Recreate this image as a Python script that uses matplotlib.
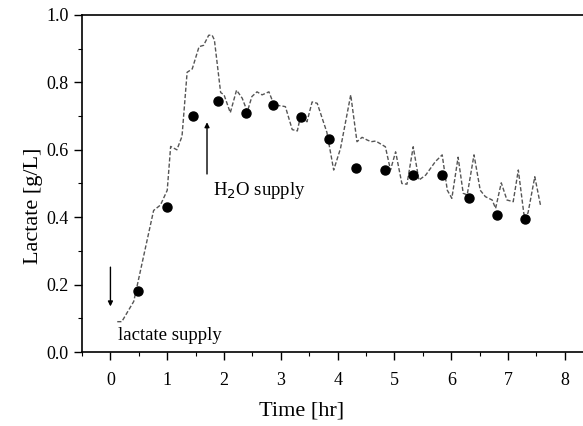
"""
Lactate concentration over time with lactate / H2O supply markers.
"""

import matplotlib
matplotlib.use("Agg")
import matplotlib.pyplot as plt
import matplotlib.ticker as ticker

# continuous (online) lactate trace
line_time = [0.12, 0.20, 0.41, 0.76, 0.88, 1.00, 1.06, 1.17, 1.26, 1.35, 1.44,
             1.56, 1.64, 1.73, 1.79, 1.83, 1.94, 2.00, 2.11, 2.22, 2.32, 2.41,
             2.49, 2.58, 2.67, 2.79, 2.88, 3.02, 3.08, 3.20, 3.29, 3.35, 3.46,
             3.55, 3.64, 3.81, 3.93, 4.05, 4.23, 4.34, 4.43, 4.52, 4.59, 4.67,
             4.84, 4.93, 5.02, 5.13, 5.22, 5.33, 5.43, 5.55, 5.72, 5.84, 5.93,
             6.01, 6.12, 6.21, 6.28, 6.40, 6.51, 6.60, 6.72, 6.78, 6.88, 6.98,
             7.09, 7.18, 7.28, 7.35, 7.47, 7.57]
line_lactate = [0.09, 0.09, 0.15, 0.42, 0.436, 0.48, 0.61, 0.60, 0.64, 0.83, 0.84,
                0.906, 0.91, 0.94, 0.94, 0.926, 0.77, 0.763, 0.71, 0.777, 0.753,
                0.713, 0.758, 0.772, 0.763, 0.772, 0.733, 0.730, 0.728, 0.660,
                0.656, 0.703, 0.683, 0.742, 0.738, 0.652, 0.54, 0.604, 0.763,
                0.624, 0.637, 0.629, 0.624, 0.626, 0.609, 0.54, 0.594, 0.50,
                0.498, 0.609, 0.51, 0.525, 0.565, 0.585, 0.48, 0.456, 0.578,
                0.471, 0.466, 0.585, 0.48, 0.461, 0.451, 0.426, 0.502, 0.451,
                0.446, 0.54, 0.407, 0.412, 0.52, 0.436]

# offline samples
sample_time = [0.48, 0.99, 1.46, 1.90, 2.39, 2.87, 3.36, 3.84, 4.32, 4.83,
               5.33, 5.83, 6.31, 6.80, 7.29]
sample_lactate = [0.18, 0.43, 0.70, 0.745, 0.71, 0.733, 0.698, 0.632, 0.546,
                  0.539, 0.525, 0.525, 0.457, 0.408, 0.396]

SERIF = ["Liberation Serif", "DejaVu Serif"]

fig = plt.figure(figsize=(5.83, 4.26), dpi=100)
ax = fig.add_axes([0.1407, 0.1737, 0.8643, 0.7911])

ax.plot(line_time, line_lactate, color="#555555", linewidth=1.0,
        linestyle=(0, (3, 1.5)))
ax.plot(sample_time, sample_lactate, "o", color="black", markersize=6.5,
        linestyle="none")

# supply arrows and labels
ax.annotate("", xy=(0.0, 0.127), xytext=(0.0, 0.26),
            arrowprops=dict(arrowstyle="-|>", color="black", lw=1.0,
                            mutation_scale=7))
ax.text(0.13, 0.05, "lactate supply", fontsize=13.5, family=SERIF,
        va="center", ha="left")
ax.annotate("", xy=(1.70, 0.69), xytext=(1.70, 0.52),
            arrowprops=dict(arrowstyle="-|>", color="black", lw=1.0,
                            mutation_scale=7))
ax.text(1.80, 0.48, "H$_2$O supply", fontsize=13.5, family=SERIF,
        va="center", ha="left")

ax.set_xlim(-0.5, 8.37)
ax.set_ylim(0.0, 1.0)
ax.xaxis.set_major_locator(ticker.MultipleLocator(1))
ax.xaxis.set_minor_locator(ticker.MultipleLocator(0.5))
ax.yaxis.set_major_locator(ticker.MultipleLocator(0.2))
ax.yaxis.set_minor_locator(ticker.MultipleLocator(0.1))
ax.yaxis.set_major_formatter(ticker.FormatStrFormatter("%.1f"))
ax.tick_params(which="major", direction="out", length=5.5, width=1.0,
               labelsize=13)
ax.tick_params(axis="x", which="major", pad=9)
ax.tick_params(axis="y", which="major", pad=4)
ax.tick_params(which="minor", direction="out", length=3, width=0.8)
for lab in ax.get_xticklabels() + ax.get_yticklabels():
    lab.set_family(SERIF)

ax.spines["right"].set_visible(False)
for s in ["left", "bottom", "top"]:
    ax.spines[s].set_linewidth(1.2)

ax.set_xlabel("Time [hr]", fontsize=16, family=SERIF, labelpad=9, x=0.435)
ax.set_ylabel("Lactate [g/L]", fontsize=16, family=SERIF, labelpad=2.5,
              y=0.433)

fig.savefig("out.png", dpi=100)
plt.close(fig)
